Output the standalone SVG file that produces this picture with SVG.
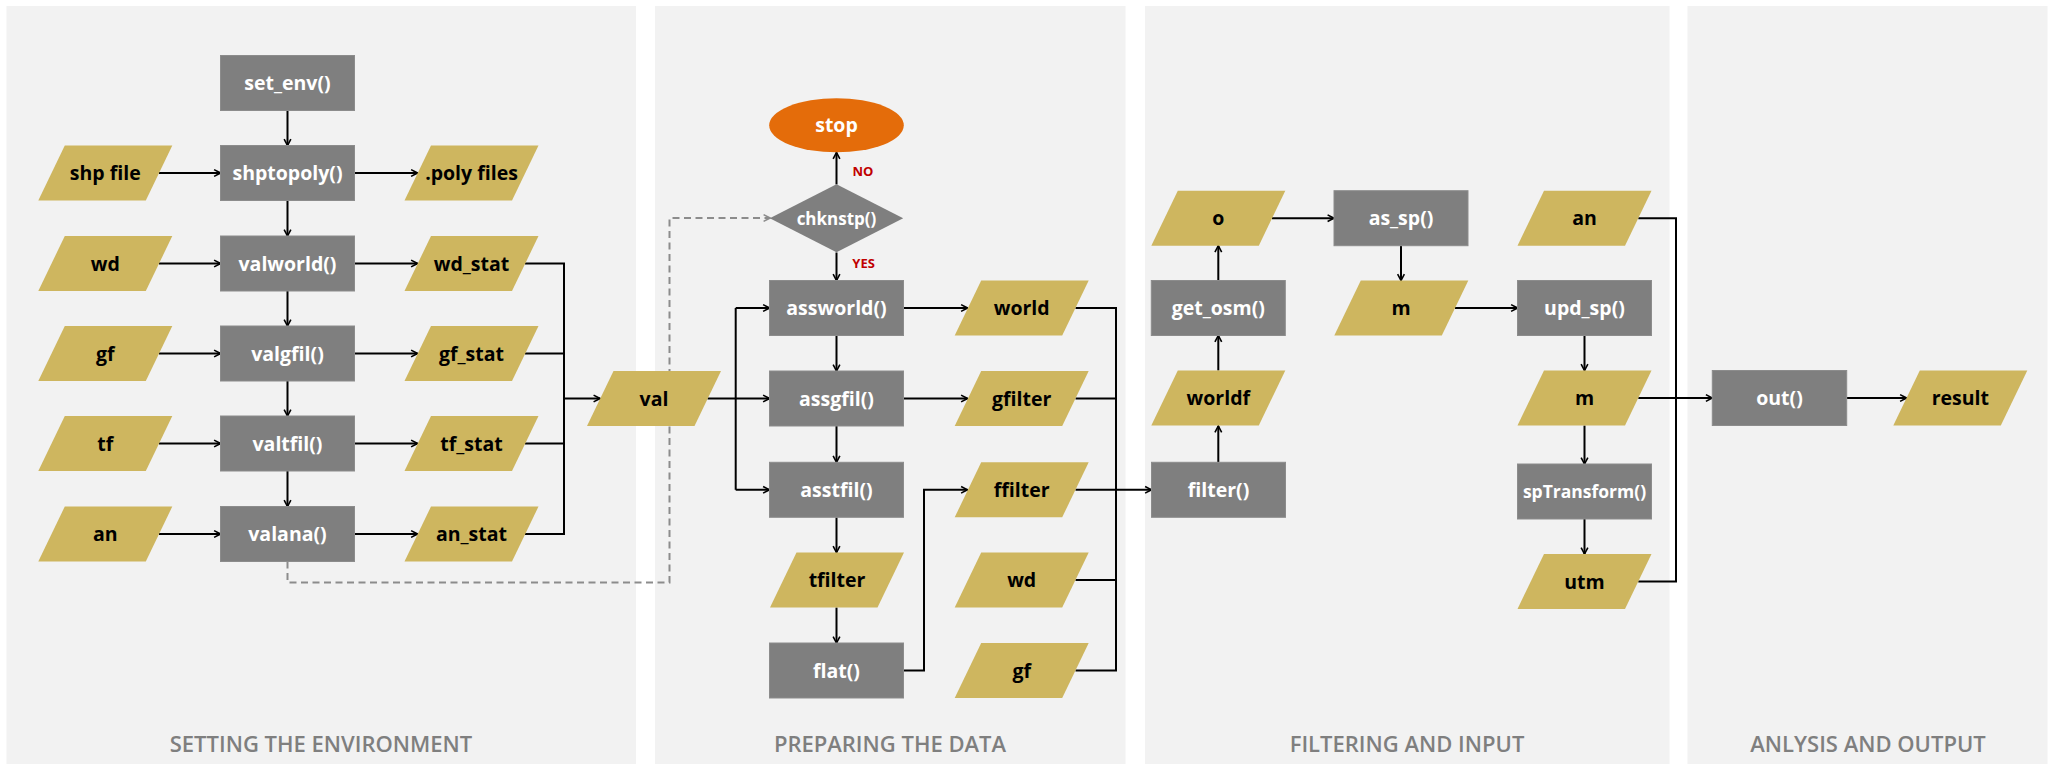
<svg xmlns="http://www.w3.org/2000/svg" width="2049" height="765" viewBox="0 0 2049 765">
<defs>
<style>
.panel{fill:#F2F2F2}
.proc{fill:#7F7F7F;stroke:#8C8C8C;stroke-width:1}
.data{fill:#CEB65F}
.ptxt{font-family:"Open Sans","DejaVu Sans",sans-serif;font-weight:700;font-size:19.5px;fill:#FFFFFF;text-anchor:middle}
.dtxt{font-family:"Open Sans","DejaVu Sans",sans-serif;font-weight:700;font-size:19.5px;fill:#000000;text-anchor:middle}
.sec{font-family:"Open Sans","DejaVu Sans",sans-serif;font-weight:600;font-size:22px;fill:#7F7F7F;text-anchor:middle}
.lbl{font-family:"Open Sans","DejaVu Sans",sans-serif;font-weight:700;font-size:13px;fill:#C00000}
.c{fill:none;stroke:#000;stroke-width:2}
.ca{fill:none;stroke:#000;stroke-width:2;marker-end:url(#arr)}
.dash{fill:none;stroke:#8C8C8C;stroke-width:2;stroke-dasharray:7 4.5;marker-end:url(#arrg)}
</style>
<marker id="arr" viewBox="0 0 10 10" refX="9" refY="5" markerWidth="8" markerHeight="10" markerUnits="userSpaceOnUse" orient="auto">
<path d="M1,0.8 L9,5 L1,9.2" fill="none" stroke="#000" stroke-width="2"/>
</marker>
<marker id="arrg" viewBox="0 0 10 10" refX="9" refY="5" markerWidth="8" markerHeight="10" markerUnits="userSpaceOnUse" orient="auto">
<path d="M1,0.8 L9,5 L1,9.2" fill="none" stroke="#8C8C8C" stroke-width="2"/>
</marker>
</defs>
<rect width="2049" height="765" fill="#FFFFFF"/>
<g id="panels">
<rect class="panel" x="6.5" y="6" width="629.5" height="758"/>
<rect class="panel" x="655" y="6" width="470.5" height="758"/>
<rect class="panel" x="1145" y="6" width="524.5" height="758"/>
<rect class="panel" x="1687.5" y="6" width="360" height="758"/>
<text class="sec" x="321" y="751.5">SETTING THE ENVIRONMENT</text>
<text class="sec" x="890" y="751.5">PREPARING THE DATA</text>
<text class="sec" x="1407" y="751.5">FILTERING AND INPUT</text>
<text class="sec" x="1868" y="751.5">ANLYSIS AND OUTPUT</text>
</g>
<g id="connectors">
<path class="ca" d="M287.5,110.5 V145.5"/>
<path class="ca" d="M287.5,200.5 V236"/>
<path class="ca" d="M287.5,291 V326"/>
<path class="ca" d="M287.5,381 V416"/>
<path class="ca" d="M287.5,471 V506.5"/>
<path class="ca" d="M159,173 H220.5"/>
<path class="ca" d="M159,263.5 H220.5"/>
<path class="ca" d="M159,353.5 H220.5"/>
<path class="ca" d="M159,443.5 H220.5"/>
<path class="ca" d="M159,534 H220.5"/>
<path class="ca" d="M354.5,173 H417.5"/>
<path class="ca" d="M354.5,263.5 H417.5"/>
<path class="ca" d="M354.5,353.5 H417.5"/>
<path class="ca" d="M354.5,443.5 H417.5"/>
<path class="ca" d="M354.5,534 H417.5"/>
<path class="c" d="M525,263.5 H564 V534 H525"/>
<path class="c" d="M525,353.5 H564"/>
<path class="c" d="M525,443.5 H564"/>
<path class="ca" d="M564,398.5 H600"/>
<path class="dash" d="M287.5,561.5 V582.5 H669.5 V218 H770"/>
<path class="ca" d="M836.5,184.5 V152.5"/>
<path class="ca" d="M836.5,252.5 V280.5"/>
<path class="ca" d="M707.5,398.5 H769.5"/>
<path class="c" d="M735.7,308 V489.8"/>
<path class="ca" d="M735.7,308 H769.5"/>
<path class="ca" d="M735.7,489.8 H769.5"/>
<path class="ca" d="M836.5,335.5 V371"/>
<path class="ca" d="M836.5,426 V462.3"/>
<path class="ca" d="M836.5,517.3 V552.5"/>
<path class="ca" d="M836.5,607.5 V643"/>
<path class="ca" d="M903.5,308 H967.5"/>
<path class="ca" d="M903.5,398.5 H967.5"/>
<path class="ca" d="M903.5,670.5 H924 V489.8 H967.5"/>
<path class="c" d="M1075.5,308 H1116 V670.5 H1075.5"/>
<path class="c" d="M1075.5,398.5 H1116"/>
<path class="c" d="M1075.5,580 H1116"/>
<path class="ca" d="M1075.5,489.8 H1151.5"/>
<path class="ca" d="M1218.3,462.3 V426"/>
<path class="ca" d="M1218.3,370.5 V335.5"/>
<path class="ca" d="M1218.3,280.5 V245.7"/>
<path class="ca" d="M1272,218.2 H1334"/>
<path class="ca" d="M1401,245.7 V280.5"/>
<path class="ca" d="M1455,308 H1517.5"/>
<path class="ca" d="M1584.5,335.5 V370.5"/>
<path class="ca" d="M1584.5,425.5 V464"/>
<path class="ca" d="M1584.5,519 V554"/>
<path class="c" d="M1638.3,218.2 H1676 V581.5 H1638.3"/>
<path class="ca" d="M1638.3,398 H1712.3"/>
<path class="ca" d="M1846.7,398 H1906.5"/>
</g>
<g id="n-set_env"><rect class="proc" x="220.5" y="55.5" width="134" height="55"/><text class="ptxt" x="287.5" y="90">set_env()</text></g>
<g id="n-shptopoly"><rect class="proc" x="220.5" y="145.5" width="134" height="55"/><text class="ptxt" x="287.5" y="180">shptopoly()</text></g>
<g id="n-valworld"><rect class="proc" x="220.5" y="236" width="134" height="55"/><text class="ptxt" x="287.5" y="270.5">valworld()</text></g>
<g id="n-valgfil"><rect class="proc" x="220.5" y="326" width="134" height="55"/><text class="ptxt" x="287.5" y="360.5">valgfil()</text></g>
<g id="n-valtfil"><rect class="proc" x="220.5" y="416" width="134" height="55"/><text class="ptxt" x="287.5" y="450.5">valtfil()</text></g>
<g id="n-valana"><rect class="proc" x="220.5" y="506.5" width="134" height="55"/><text class="ptxt" x="287.5" y="541">valana()</text></g>
<g id="n-shpfile"><polygon class="data" points="64.8,145.5 172.3,145.5 145.8,200.5 38.3,200.5"/><text class="dtxt" x="105.3" y="180">shp file</text></g>
<g id="n-wd1"><polygon class="data" points="64.8,236 172.3,236 145.8,291 38.3,291"/><text class="dtxt" x="105.3" y="270.5">wd</text></g>
<g id="n-gf1"><polygon class="data" points="64.8,326 172.3,326 145.8,381 38.3,381"/><text class="dtxt" x="105.3" y="360.5">gf</text></g>
<g id="n-tf"><polygon class="data" points="64.8,416 172.3,416 145.8,471 38.3,471"/><text class="dtxt" x="105.3" y="450.5">tf</text></g>
<g id="n-an1"><polygon class="data" points="64.8,506.5 172.3,506.5 145.8,561.5 38.3,561.5"/><text class="dtxt" x="105.3" y="541">an</text></g>
<g id="n-polyfiles"><polygon class="data" points="431,145.5 538.5,145.5 512,200.5 404.5,200.5"/><text class="dtxt" x="471.5" y="180">.poly files</text></g>
<g id="n-wd_stat"><polygon class="data" points="431,236 538.5,236 512,291 404.5,291"/><text class="dtxt" x="471.5" y="270.5">wd_stat</text></g>
<g id="n-gf_stat"><polygon class="data" points="431,326 538.5,326 512,381 404.5,381"/><text class="dtxt" x="471.5" y="360.5">gf_stat</text></g>
<g id="n-tf_stat"><polygon class="data" points="431,416 538.5,416 512,471 404.5,471"/><text class="dtxt" x="471.5" y="450.5">tf_stat</text></g>
<g id="n-an_stat"><polygon class="data" points="431,506.5 538.5,506.5 512,561.5 404.5,561.5"/><text class="dtxt" x="471.5" y="541">an_stat</text></g>
<g id="n-val"><polygon class="data" points="613.5,371 721,371 694.5,426 587,426"/><text class="dtxt" x="654" y="405.5">val</text></g>
<g id="n-stop"><ellipse cx="836.5" cy="125.3" rx="67.3" ry="27" fill="#E46C0A"/><text class="ptxt" x="836.5" y="132.3">stop</text></g>
<g id="n-chknstp"><polygon points="836.5,184.3 903.2,218.3 836.5,252.3 769.8,218.3" fill="#7F7F7F"/><text class="ptxt" x="836.5" y="225" style="font-size:17px">chknstp()</text></g>
<text class="lbl" x="852.5" y="175.5">NO</text>
<text class="lbl" x="852.3" y="268.3">YES</text>
<g id="n-assworld"><rect class="proc" x="769.5" y="280.5" width="134" height="55"/><text class="ptxt" x="836.5" y="315">assworld()</text></g>
<g id="n-assgfil"><rect class="proc" x="769.5" y="371" width="134" height="55"/><text class="ptxt" x="836.5" y="405.5">assgfil()</text></g>
<g id="n-asstfil"><rect class="proc" x="769.5" y="462.3" width="134" height="55"/><text class="ptxt" x="836.5" y="496.8">asstfil()</text></g>
<g id="n-tfilter"><polygon class="data" points="796.5,552.5 904,552.5 877.5,607.5 770,607.5"/><text class="dtxt" x="837" y="587">tfilter</text></g>
<g id="n-flat"><rect class="proc" x="769.5" y="643" width="134" height="55"/><text class="ptxt" x="836.5" y="677.5">flat()</text></g>
<g id="n-world"><polygon class="data" points="981.2,280.5 1088.7,280.5 1062.2,335.5 954.7,335.5"/><text class="dtxt" x="1021.7" y="315">world</text></g>
<g id="n-gfilter"><polygon class="data" points="981.2,371 1088.7,371 1062.2,426 954.7,426"/><text class="dtxt" x="1021.7" y="405.5">gfilter</text></g>
<g id="n-ffilter"><polygon class="data" points="981.2,462.3 1088.7,462.3 1062.2,517.3 954.7,517.3"/><text class="dtxt" x="1021.7" y="496.8">ffilter</text></g>
<g id="n-wd2"><polygon class="data" points="981.2,552.5 1088.7,552.5 1062.2,607.5 954.7,607.5"/><text class="dtxt" x="1021.7" y="587">wd</text></g>
<g id="n-gf2"><polygon class="data" points="981.2,643 1088.7,643 1062.2,698 954.7,698"/><text class="dtxt" x="1021.7" y="677.5">gf</text></g>
<g id="n-o"><polygon class="data" points="1177.8,190.7 1285.3,190.7 1258.8,245.7 1151.3,245.7"/><text class="dtxt" x="1218.3" y="225.2">o</text></g>
<g id="n-get_osm"><rect class="proc" x="1151.3" y="280.5" width="134" height="55"/><text class="ptxt" x="1218.3" y="315">get_osm()</text></g>
<g id="n-worldf"><polygon class="data" points="1177.8,370.5 1285.3,370.5 1258.8,425.5 1151.3,425.5"/><text class="dtxt" x="1218.3" y="405">worldf</text></g>
<g id="n-filter"><rect class="proc" x="1151.5" y="462.3" width="134" height="55"/><text class="ptxt" x="1218.5" y="496.8">filter()</text></g>
<g id="n-as_sp"><rect class="proc" x="1334" y="190.7" width="134" height="55"/><text class="ptxt" x="1401" y="225.2">as_sp()</text></g>
<g id="n-m1"><polygon class="data" points="1360.8,280.5 1468.3,280.5 1441.8,335.5 1334.3,335.5"/><text class="dtxt" x="1401" y="315">m</text></g>
<g id="n-an2"><polygon class="data" points="1544,190.7 1651.5,190.7 1625,245.7 1517.5,245.7"/><text class="dtxt" x="1584.5" y="225.2">an</text></g>
<g id="n-upd_sp"><rect class="proc" x="1517.5" y="280.5" width="134" height="55"/><text class="ptxt" x="1584.5" y="315">upd_sp()</text></g>
<g id="n-m2"><polygon class="data" points="1544,370.5 1651.5,370.5 1625,425.5 1517.5,425.5"/><text class="dtxt" x="1584.5" y="405">m</text></g>
<g id="n-spTransform"><rect class="proc" x="1517.5" y="464" width="134" height="55"/><text class="ptxt" x="1584.5" y="497.5" style="font-size:17.5px">spTransform()</text></g>
<g id="n-utm"><polygon class="data" points="1544,554 1651.5,554 1625,609 1517.5,609"/><text class="dtxt" x="1584.5" y="588.5">utm</text></g>
<g id="n-out"><rect class="proc" x="1712.3" y="370.5" width="134.4" height="55"/><text class="ptxt" x="1779.5" y="405">out()</text></g>
<g id="n-result"><polygon class="data" points="1919.8,370.5 2027.3,370.5 2000.8,425.5 1893.3,425.5"/><text class="dtxt" x="1960.3" y="405">result</text></g>
</svg>
